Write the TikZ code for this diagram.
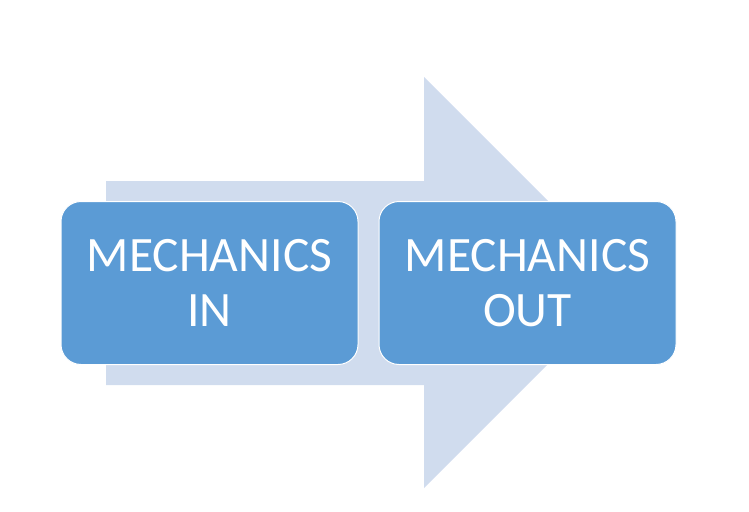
\documentclass[tikz,border=0pt]{standalone}
\usepackage{fontspec}
\setmainfont{Carlito}
\definecolor{arrowfill}{HTML}{D0DCEE}
\definecolor{boxfill}{HTML}{5B9BD5}
\begin{document}
\begin{tikzpicture}[x=1pt,y=-1pt,
  box/.style={draw=white,line width=1pt,fill=boxfill,rounded corners=20pt,
    minimum width=297pt,minimum height=163pt,inner sep=0pt,
    text=white,align=center,font=\fontsize{49.5}{55}\selectfont}]
\useasboundingbox (0,0) rectangle (749,511);
\fill[arrowfill] (106,181) -- (424,181) -- (424,77) -- (629.5,282.5)
  -- (424,488) -- (424,385) -- (106,385) -- cycle;
\node[box] (in) at (209.5,283) {MECHANICS\\IN};
\node[box] (out) at (527.5,283) {MECHANICS\\OUT};
\end{tikzpicture}
\end{document}
